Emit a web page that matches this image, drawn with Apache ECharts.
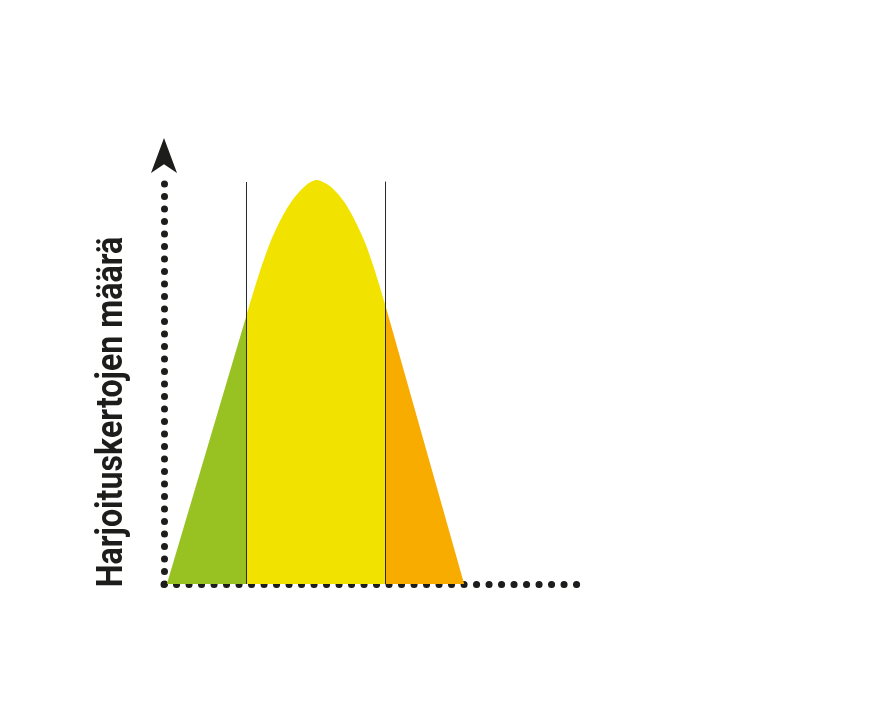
<!DOCTYPE html>
<html>
<head>
<meta charset="utf-8">
<script src="https://cdn.jsdelivr.net/npm/echarts@6/dist/echarts.min.js"></script>
<style>
  html, body { margin: 0; padding: 0; background: #ffffff; }
  #chart { width: 886px; height: 705px; }
</style>
</head>
<body>
<div id="chart"></div>
<script>
// Data (x: relative position 0–100 along the axis, y: relative height, peak = 100)
const greenSegment = [[0.7, 0], [19.81, 66.09]];
const yellowSegment = [
  [19.81, 66.09], [21.74, 72.77], [23.67, 78.96], [25.60, 84.41], [27.54, 88.86],
  [29.47, 92.57], [31.40, 95.54], [33.33, 97.77], [35.02, 99.26], [36.84, 100],
  [38.65, 99.38], [40.34, 98.27], [42.03, 96.53], [43.72, 94.31], [45.41, 91.34],
  [47.10, 87.87], [48.79, 83.91], [50.48, 78.96], [51.93, 74.26], [53.45, 69.06]
];
const orangeSegment = [[53.45, 69.06], [72.5, 0]];
const boundaryX = [19.81, 53.45];
const boundaryTop = [99.5, 99.6];
const yAxisTitle = 'Harjoituskertojen määrä';

const colors = { green: '#98c222', yellow: '#f2e200', orange: '#f8ac00', ink: '#1d1d1b' };

const chart = echarts.init(document.getElementById('chart'), null, { renderer: 'canvas' });

const dotted = { color: colors.ink, width: 7, type: [0.1, 12.4], cap: 'round' };

function areaSeries(data, color, extra) {
  return Object.assign({
    type: 'line',
    data: data,
    symbol: 'none',
    smooth: false,
    lineStyle: { width: 0, opacity: 0 },
    areaStyle: { color: color, opacity: 1 },
    silent: true,
    animation: false
  }, extra || {});
}

chart.setOption({
  animation: false,
  backgroundColor: '#ffffff',
  grid: { left: 164, top: 174.75, width: 414, height: 409.25, containLabel: false },
  xAxis: {
    type: 'value', min: 0, max: 100,
    axisLine: { show: true, lineStyle: dotted },
    axisTick: { show: false }, axisLabel: { show: false }, splitLine: { show: false }
  },
  yAxis: {
    type: 'value', min: 0, max: 101.3,
    axisLine: {
      show: true, lineStyle: dotted,
      symbol: ['none', 'arrow'], symbolSize: [19.5, 35], symbolOffset: [0, 36.8]
    },
    axisTick: { show: false }, axisLabel: { show: false }, splitLine: { show: false }
  },
  series: [
    areaSeries(greenSegment, colors.green),
    areaSeries(yellowSegment, colors.yellow, {
      smooth: 0.3,
      markLine: {
        silent: true,
        symbol: ['none', 'none'],
        label: { show: false },
        lineStyle: { color: '#2a2a2a', width: 1, type: 'solid' },
        data: boundaryX.map((x, i) => [{ coord: [x, 0] }, { coord: [x, boundaryTop[i]] }])
      }
    }),
    areaSeries(orangeSegment, colors.orange)
  ],
  graphic: [{
    type: 'text',
    x: 113, y: 412,
    rotation: Math.PI / 2,
    scaleX: 0.87,
    style: {
      text: yAxisTitle,
      font: 'bold 37px Roboto',
      fill: colors.ink,
      align: 'center',
      verticalAlign: 'middle'
    }
  }]
});
</script>
</body>
</html>
